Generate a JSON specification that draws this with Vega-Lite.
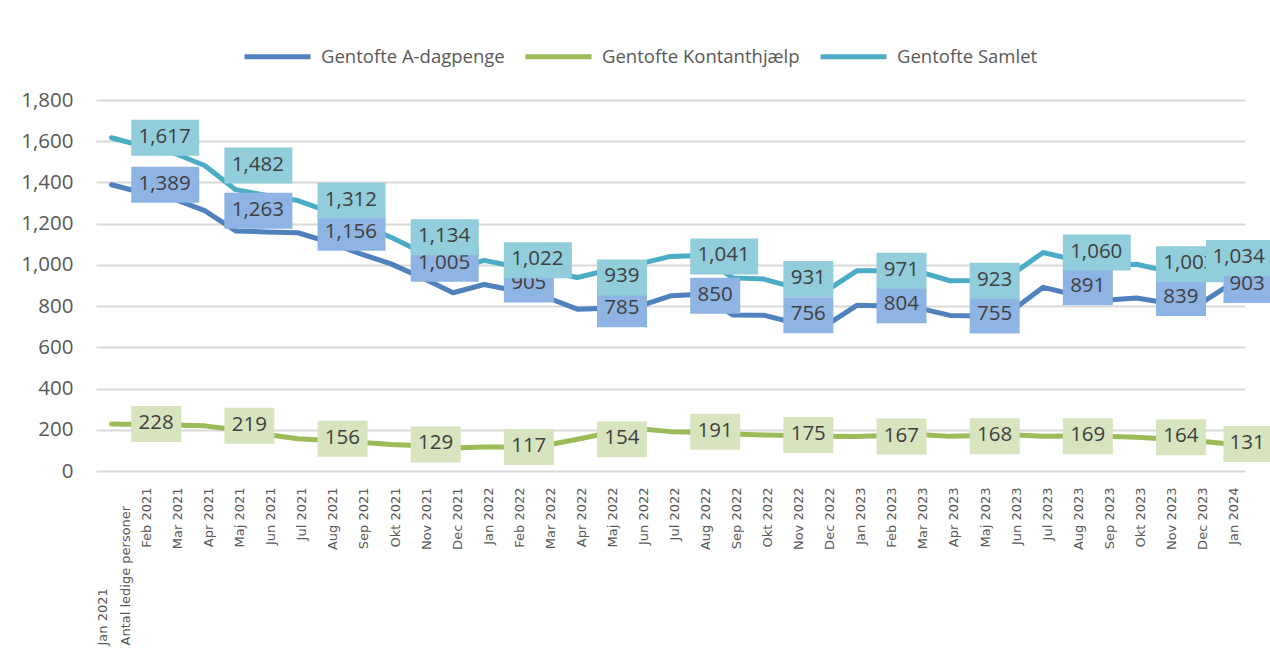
{
  "$schema": "https://vega.github.io/schema/vega-lite/v6.json",
  "width": 1149,
  "height": 371,
  "autosize": {"type": "none"},
  "padding": {"left": 96, "top": 100, "right": 25, "bottom": 189},
  "background": "white",
  "config": {"view": {"stroke": null}, "font": "Open Sans"},
  "data": {
    "values": [
      {"month": "Jan 2021", "Gentofte A-dagpenge": 1389, "Gentofte Kontanthjælp": 228, "Gentofte Samlet": 1617},
      {"month": "Feb 2021", "Gentofte A-dagpenge": 1350, "Gentofte Kontanthjælp": 226, "Gentofte Samlet": 1576},
      {"month": "Mar 2021", "Gentofte A-dagpenge": 1320, "Gentofte Kontanthjælp": 223, "Gentofte Samlet": 1543},
      {"month": "Apr 2021", "Gentofte A-dagpenge": 1263, "Gentofte Kontanthjælp": 219, "Gentofte Samlet": 1482},
      {"month": "Maj 2021", "Gentofte A-dagpenge": 1165, "Gentofte Kontanthjælp": 200, "Gentofte Samlet": 1365},
      {"month": "Jun 2021", "Gentofte A-dagpenge": 1160, "Gentofte Kontanthjælp": 177, "Gentofte Samlet": 1337},
      {"month": "Jul 2021", "Gentofte A-dagpenge": 1156, "Gentofte Kontanthjælp": 156, "Gentofte Samlet": 1312},
      {"month": "Aug 2021", "Gentofte A-dagpenge": 1110, "Gentofte Kontanthjælp": 148, "Gentofte Samlet": 1258},
      {"month": "Sep 2021", "Gentofte A-dagpenge": 1055, "Gentofte Kontanthjælp": 140, "Gentofte Samlet": 1195},
      {"month": "Okt 2021", "Gentofte A-dagpenge": 1005, "Gentofte Kontanthjælp": 129, "Gentofte Samlet": 1134},
      {"month": "Nov 2021", "Gentofte A-dagpenge": 938, "Gentofte Kontanthjælp": 122, "Gentofte Samlet": 1060},
      {"month": "Dec 2021", "Gentofte A-dagpenge": 865, "Gentofte Kontanthjælp": 112, "Gentofte Samlet": 977},
      {"month": "Jan 2022", "Gentofte A-dagpenge": 905, "Gentofte Kontanthjælp": 117, "Gentofte Samlet": 1022},
      {"month": "Feb 2022", "Gentofte A-dagpenge": 875, "Gentofte Kontanthjælp": 116, "Gentofte Samlet": 991},
      {"month": "Mar 2022", "Gentofte A-dagpenge": 843, "Gentofte Kontanthjælp": 125, "Gentofte Samlet": 968},
      {"month": "Apr 2022", "Gentofte A-dagpenge": 785, "Gentofte Kontanthjælp": 154, "Gentofte Samlet": 939},
      {"month": "Maj 2022", "Gentofte A-dagpenge": 790, "Gentofte Kontanthjælp": 185, "Gentofte Samlet": 975},
      {"month": "Jun 2022", "Gentofte A-dagpenge": 800, "Gentofte Kontanthjælp": 205, "Gentofte Samlet": 1005},
      {"month": "Jul 2022", "Gentofte A-dagpenge": 850, "Gentofte Kontanthjælp": 191, "Gentofte Samlet": 1041},
      {"month": "Aug 2022", "Gentofte A-dagpenge": 858, "Gentofte Kontanthjælp": 188, "Gentofte Samlet": 1046},
      {"month": "Sep 2022", "Gentofte A-dagpenge": 757, "Gentofte Kontanthjælp": 180, "Gentofte Samlet": 937},
      {"month": "Okt 2022", "Gentofte A-dagpenge": 756, "Gentofte Kontanthjælp": 175, "Gentofte Samlet": 931},
      {"month": "Nov 2022", "Gentofte A-dagpenge": 718, "Gentofte Kontanthjælp": 172, "Gentofte Samlet": 890},
      {"month": "Dec 2022", "Gentofte A-dagpenge": 705, "Gentofte Kontanthjælp": 168, "Gentofte Samlet": 873},
      {"month": "Jan 2023", "Gentofte A-dagpenge": 804, "Gentofte Kontanthjælp": 167, "Gentofte Samlet": 971},
      {"month": "Feb 2023", "Gentofte A-dagpenge": 800, "Gentofte Kontanthjælp": 172, "Gentofte Samlet": 972},
      {"month": "Mar 2023", "Gentofte A-dagpenge": 790, "Gentofte Kontanthjælp": 177, "Gentofte Samlet": 967},
      {"month": "Apr 2023", "Gentofte A-dagpenge": 755, "Gentofte Kontanthjælp": 168, "Gentofte Samlet": 923},
      {"month": "Maj 2023", "Gentofte A-dagpenge": 752, "Gentofte Kontanthjælp": 172, "Gentofte Samlet": 924},
      {"month": "Jun 2023", "Gentofte A-dagpenge": 778, "Gentofte Kontanthjælp": 176, "Gentofte Samlet": 954},
      {"month": "Jul 2023", "Gentofte A-dagpenge": 891, "Gentofte Kontanthjælp": 169, "Gentofte Samlet": 1060},
      {"month": "Aug 2023", "Gentofte A-dagpenge": 855, "Gentofte Kontanthjælp": 170, "Gentofte Samlet": 1025},
      {"month": "Sep 2023", "Gentofte A-dagpenge": 828, "Gentofte Kontanthjælp": 168, "Gentofte Samlet": 996},
      {"month": "Okt 2023", "Gentofte A-dagpenge": 839, "Gentofte Kontanthjælp": 164, "Gentofte Samlet": 1003},
      {"month": "Nov 2023", "Gentofte A-dagpenge": 815, "Gentofte Kontanthjælp": 155, "Gentofte Samlet": 970},
      {"month": "Dec 2023", "Gentofte A-dagpenge": 806, "Gentofte Kontanthjælp": 145, "Gentofte Samlet": 951},
      {"month": "Jan 2024", "Gentofte A-dagpenge": 903, "Gentofte Kontanthjælp": 131, "Gentofte Samlet": 1034}
    ]
  },
  "transform": [
    {"fold": ["Gentofte A-dagpenge", "Gentofte Kontanthjælp", "Gentofte Samlet"], "as": ["series", "value"]}
  ],
  "encoding": {
    "x": {
      "field": "month",
      "type": "ordinal",
      "sort": null,
      "scale": {
        "type": "point",
        "padding": 0.5,
        "domain": ["Jan 2021", "Feb 2021", "Mar 2021", "Apr 2021", "Maj 2021", "Jun 2021", "Jul 2021", "Aug 2021", "Sep 2021", "Okt 2021", "Nov 2021", "Dec 2021", "Jan 2022", "Feb 2022", "Mar 2022", "Apr 2022", "Maj 2022", "Jun 2022", "Jul 2022", "Aug 2022", "Sep 2022", "Okt 2022", "Nov 2022", "Dec 2022", "Jan 2023", "Feb 2023", "Mar 2023", "Apr 2023", "Maj 2023", "Jun 2023", "Jul 2023", "Aug 2023", "Sep 2023", "Okt 2023", "Nov 2023", "Dec 2023", "Jan 2024"]
      },
      "axis": {
        "title": null,
        "labelAngle": -90,
        "domain": false,
        "ticks": false,
        "tickSize": 0,
        "grid": false,
        "labelFont": "DejaVu Sans",
        "labelFontSize": 13,
        "labelColor": "#595959",
        "labelPadding": {"condition": {"test": "datum.value == 'Jan 2021'", "value": 174}, "value": 16},
        "labelAlign": {"condition": {"test": "datum.value == 'Jan 2021'", "value": "left"}, "value": "right"},
        "labelOffset": {"condition": {"test": "datum.value == 'Jan 2021'", "value": -9}, "value": 4},
        "labelOverlap": false,
        "labelLimit": 300,
        "labelLineHeight": 23,
        "labelExpr": "datum.value == 'Jan 2021' ? ['Jan 2021', 'Antal ledige personer'] : datum.label"
      }
    },
    "y": {
      "field": "value",
      "type": "quantitative",
      "scale": {"domain": [0, 1800], "nice": false},
      "axis": {
        "title": null,
        "values": [0, 200, 400, 600, 800, 1000, 1200, 1400, 1600, 1800],
        "format": ",.0f",
        "domain": false,
        "ticks": false,
        "tickSize": 0,
        "grid": true,
        "gridColor": "#D9D9D9",
        "gridWidth": 2,
        "labelFont": "Open Sans",
        "labelFontSize": 20.5,
        "labelColor": "#595959",
        "labelPadding": 23
      }
    }
  },
  "layer": [
    {
      "mark": {"type": "line", "strokeWidth": 5, "strokeCap": "round", "strokeJoin": "round"},
      "encoding": {
        "color": {
          "field": "series",
          "type": "nominal",
          "scale": {
            "domain": ["Gentofte A-dagpenge", "Gentofte Kontanthjælp", "Gentofte Samlet"],
            "range": ["#4F81BD", "#9BBB59", "#4BACC6"]
          },
          "legend": {
            "title": null,
            "orient": "none",
            "legendX": 146,
            "legendY": -79,
            "direction": "horizontal",
            "symbolType": "stroke",
            "symbolSize": 4356,
            "symbolStrokeWidth": 5,
            "labelFont": "Open Sans",
            "labelFontSize": 18.5,
            "labelColor": "#595959",
            "labelOffset": 8,
            "labelLimit": 400,
            "columnPadding": 10,
            "padding": 0
          }
        }
      }
    },
    {
      "transform": [
        {"filter": {"field": "series", "equal": "Gentofte A-dagpenge"}},
        {"filter": {"field": "month", "oneOf": ["Jan 2021", "Apr 2021", "Jul 2021", "Okt 2021", "Jan 2022", "Apr 2022", "Jul 2022", "Okt 2022", "Jan 2023", "Apr 2023", "Jul 2023", "Okt 2023"]}}
      ],
      "mark": {"type": "point", "filled": true, "opacity": 1, "size": 4, "strokeWidth": 0, "fill": "#8EB4E3"},
      "encoding": {
        "shape": {"condition": {"test": "datum.value >= 1000", "value": "M19.7,-18H87.7V18H19.7Z"}, "value": "M19.7,-18H69.7V18H19.7Z"}
      }
    },
    {
      "transform": [
        {"filter": {"field": "series", "equal": "Gentofte A-dagpenge"}},
        {"filter": {"field": "month", "oneOf": ["Jan 2021", "Apr 2021", "Jul 2021", "Okt 2021", "Jan 2022", "Apr 2022", "Jul 2022", "Okt 2022", "Jan 2023", "Apr 2023", "Jul 2023", "Okt 2023"]}}
      ],
      "mark": {"type": "text", "align": "left", "baseline": "middle", "dx": 27, "dy": -1, "font": "Open Sans", "fontSize": 20.5, "fill": "#404040"},
      "encoding": {"text": {"field": "value", "type": "quantitative", "format": ","}}
    },
    {
      "transform": [
        {"filter": {"field": "series", "equal": "Gentofte A-dagpenge"}},
        {"filter": {"field": "month", "equal": "Jan 2024"}}
      ],
      "mark": {"type": "point", "filled": true, "opacity": 1, "size": 4, "strokeWidth": 0, "fill": "#8EB4E3"},
      "encoding": {
        "shape": {"condition": {"test": "datum.value >= 1000", "value": "M-23.5,-18H44.5V18H-23.5Z"}, "value": "M-6,-18H44V18H-6Z"}
      }
    },
    {
      "transform": [
        {"filter": {"field": "series", "equal": "Gentofte A-dagpenge"}},
        {"filter": {"field": "month", "equal": "Jan 2024"}}
      ],
      "mark": {"type": "text", "align": "left", "baseline": "middle", "dx": 0, "dy": -1, "font": "Open Sans", "fontSize": 20.5, "fill": "#404040"},
      "encoding": {"text": {"field": "value", "type": "quantitative", "format": ","}}
    },
    {
      "transform": [
        {"filter": {"field": "series", "equal": "Gentofte Kontanthjælp"}},
        {"filter": {"field": "month", "oneOf": ["Jan 2021", "Apr 2021", "Jul 2021", "Okt 2021", "Jan 2022", "Apr 2022", "Jul 2022", "Okt 2022", "Jan 2023", "Apr 2023", "Jul 2023", "Okt 2023"]}}
      ],
      "mark": {"type": "point", "filled": true, "opacity": 1, "size": 4, "strokeWidth": 0, "fill": "#D7E4BD"},
      "encoding": {
        "shape": {"condition": {"test": "datum.value >= 1000", "value": "M19.7,-18H87.7V18H19.7Z"}, "value": "M19.7,-18H69.7V18H19.7Z"}
      }
    },
    {
      "transform": [
        {"filter": {"field": "series", "equal": "Gentofte Kontanthjælp"}},
        {"filter": {"field": "month", "oneOf": ["Jan 2021", "Apr 2021", "Jul 2021", "Okt 2021", "Jan 2022", "Apr 2022", "Jul 2022", "Okt 2022", "Jan 2023", "Apr 2023", "Jul 2023", "Okt 2023"]}}
      ],
      "mark": {"type": "text", "align": "left", "baseline": "middle", "dx": 27, "dy": -1, "font": "Open Sans", "fontSize": 20.5, "fill": "#404040"},
      "encoding": {"text": {"field": "value", "type": "quantitative", "format": ","}}
    },
    {
      "transform": [
        {"filter": {"field": "series", "equal": "Gentofte Kontanthjælp"}},
        {"filter": {"field": "month", "equal": "Jan 2024"}}
      ],
      "mark": {"type": "point", "filled": true, "opacity": 1, "size": 4, "strokeWidth": 0, "fill": "#D7E4BD"},
      "encoding": {
        "shape": {"condition": {"test": "datum.value >= 1000", "value": "M-23.5,-18H44.5V18H-23.5Z"}, "value": "M-6,-18H44V18H-6Z"}
      }
    },
    {
      "transform": [
        {"filter": {"field": "series", "equal": "Gentofte Kontanthjælp"}},
        {"filter": {"field": "month", "equal": "Jan 2024"}}
      ],
      "mark": {"type": "text", "align": "left", "baseline": "middle", "dx": 0, "dy": -1, "font": "Open Sans", "fontSize": 20.5, "fill": "#404040"},
      "encoding": {"text": {"field": "value", "type": "quantitative", "format": ","}}
    },
    {
      "transform": [
        {"filter": {"field": "series", "equal": "Gentofte Samlet"}},
        {"filter": {"field": "month", "oneOf": ["Jan 2021", "Apr 2021", "Jul 2021", "Okt 2021", "Jan 2022", "Apr 2022", "Jul 2022", "Okt 2022", "Jan 2023", "Apr 2023", "Jul 2023", "Okt 2023"]}}
      ],
      "mark": {"type": "point", "filled": true, "opacity": 1, "size": 4, "strokeWidth": 0, "fill": "#92CDDC"},
      "encoding": {
        "shape": {"condition": {"test": "datum.value >= 1000", "value": "M19.7,-18H87.7V18H19.7Z"}, "value": "M19.7,-18H69.7V18H19.7Z"}
      }
    },
    {
      "transform": [
        {"filter": {"field": "series", "equal": "Gentofte Samlet"}},
        {"filter": {"field": "month", "oneOf": ["Jan 2021", "Apr 2021", "Jul 2021", "Okt 2021", "Jan 2022", "Apr 2022", "Jul 2022", "Okt 2022", "Jan 2023", "Apr 2023", "Jul 2023", "Okt 2023"]}}
      ],
      "mark": {"type": "text", "align": "left", "baseline": "middle", "dx": 27, "dy": -1, "font": "Open Sans", "fontSize": 20.5, "fill": "#404040"},
      "encoding": {"text": {"field": "value", "type": "quantitative", "format": ","}}
    },
    {
      "transform": [
        {"filter": {"field": "series", "equal": "Gentofte Samlet"}},
        {"filter": {"field": "month", "equal": "Jan 2024"}}
      ],
      "mark": {"type": "point", "filled": true, "opacity": 1, "size": 4, "strokeWidth": 0, "fill": "#92CDDC"},
      "encoding": {
        "shape": {"condition": {"test": "datum.value >= 1000", "value": "M-23.5,-18H44.5V18H-23.5Z"}, "value": "M-6,-18H44V18H-6Z"}
      }
    },
    {
      "transform": [
        {"filter": {"field": "series", "equal": "Gentofte Samlet"}},
        {"filter": {"field": "month", "equal": "Jan 2024"}}
      ],
      "mark": {"type": "text", "align": "left", "baseline": "middle", "dx": -17, "dy": -1, "font": "Open Sans", "fontSize": 20.5, "fill": "#404040"},
      "encoding": {"text": {"field": "value", "type": "quantitative", "format": ","}}
    }
  ]
}
